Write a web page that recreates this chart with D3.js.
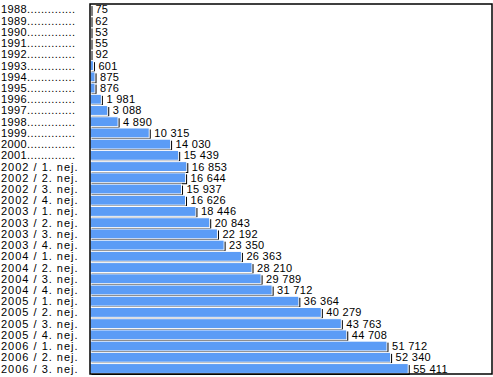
<!DOCTYPE html>
<html>
<head>
<meta charset="utf-8">
<script src="https://cdn.jsdelivr.net/npm/d3@7"></script>
<style>
  body { margin: 0; background: #fff; }
  text { font-family: "Liberation Sans", Arial, sans-serif; font-size: 11px; fill: #000; }
</style>
</head>
<body>
<div id="chart"></div>
<script>
// 期間ラベル --------------------------------------------------------------------------------
const periods = [
  '1988', '1989', '1990', '1991', '1992', '1993', '1994', '1995', '1996', '1997', '1998', '1999',
  '2000', '2001',
  '2002 / 1. nej.', '2002 / 2. nej.', '2002 / 3. nej.', '2002 / 4. nej.',
  '2003 / 1. nej.', '2003 / 2. nej.', '2003 / 3. nej.', '2003 / 4. nej.',
  '2004 / 1. nej.', '2004 / 2. nej.', '2004 / 3. nej.', '2004 / 4. nej.',
  '2005 / 1. nej.', '2005 / 2. nej.', '2005 / 3. nej.', '2005 / 4. nej.',
  '2006 / 1. nej.', '2006 / 2. nej.', '2006 / 3. nej.'
];
const counts = [
  75, 62, 53, 55, 92, 601, 875, 876, 1981, 3088, 4890, 10315,
  14030, 15439,
  16853, 16644, 15937, 16626,
  18446, 20843, 22192, 23350,
  26363, 28210, 29789, 31712,
  36364, 40279, 43763, 44708,
  51712, 52340, 55411
];
const xMax = 70000;
// ---------------------------------------------------------------------------------------------
const width = 493;
const height = 377;
const plot = { left: 90, top: 4, right: 492, bottom: 374 };

const svg = d3.select('#chart').append('svg')
  .attr('width', width)
  .attr('height', height);

const x = d3.scaleLinear().domain([0, xMax]).range([plot.left, plot.right]);
const y = d3.scaleBand().domain(periods).range([plot.top, plot.bottom]).paddingInner(0.12).paddingOuter(0.05);

const fmt = v => d3.format(',')(v).replace(/,/g, ' ');

// 棒 -------------------------------------------------------------------------------------------
const rows = svg.append('g').selectAll('g')
  .data(periods.map((p, i) => ({ p, v: counts[i] })))
  .enter().append('g');

rows.append('rect')
  .attr('x', plot.left + 1.5)
  .attr('y', d => y(d.p) + 1.5)
  .attr('width', d => Math.max(1, x(d.v) - plot.left))
  .attr('height', y.bandwidth())
  .attr('fill', '#000');

rows.append('rect')
  .attr('x', plot.left)
  .attr('y', d => y(d.p))
  .attr('width', d => Math.max(0, x(d.v) - plot.left))
  .attr('height', y.bandwidth())
  .attr('fill', '#5b9cf6')
  .attr('stroke', '#fff')
  .attr('stroke-width', 1);

rows.append('text')
  .attr('x', d => x(d.v) + 5)
  .attr('y', d => y(d.p) + y.bandwidth() / 2 + 4)
  .attr('letter-spacing', '0.3px')
  .text(d => fmt(d.v));

// カテゴリラベル --------------------------------------------------------------------------------
const labels = svg.append('g').selectAll('text')
  .data(periods)
  .enter().append('text')
  .attr('x', 1)
  .attr('y', d => y(d) + y.bandwidth() / 2 + 4)
  .attr('letter-spacing', d => d.indexOf('/') >= 0 ? '1px' : '0.4px')
  .text(d => d);

labels.each(function (d) {
  if (d.indexOf('/') >= 0) return;
  const t = d3.select(this);
  let s = d;
  while (this.getComputedTextLength() < 74) {
    s += '.';
    t.text(s);
  }
});

// 枠 ------------------------------------------------------------------------------------------
svg.append('rect')
  .attr('x', plot.left)
  .attr('y', plot.top)
  .attr('width', plot.right - plot.left)
  .attr('height', plot.bottom - plot.top)
  .attr('fill', 'none')
  .attr('stroke', '#000')
  .attr('stroke-width', 1.5);
</script>
</body>
</html>
